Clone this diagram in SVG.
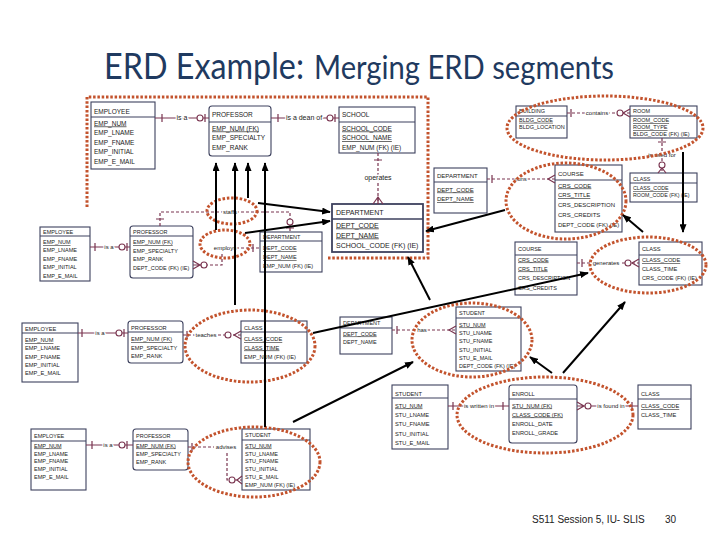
<svg xmlns="http://www.w3.org/2000/svg" width="720" height="540" viewBox="0 0 720 540">
<defs>
<style>
.b{fill:#fff;stroke:#3d415e;stroke-width:1.1}
.bm{fill:#fff;stroke:#3d415e;stroke-width:1.8}
.h{stroke:#3d415e;stroke-width:1.1}
text{font-family:"Liberation Sans",Arial,sans-serif;fill:#1b1b1b}
.s7{font-size:7px}
.s65{font-size:6.5px}
.s6{font-size:6px}
.s57{font-size:5.7px}
.s55{font-size:5.5px}
.s53{font-size:5.3px}
.pk{text-decoration:underline}
.r{fill:none;stroke:#7a3550;stroke-width:1.2}
.d{stroke-dasharray:3 2}
.o{fill:#fff;stroke:#7a3550;stroke-width:1.1}
.rl{font-size:6px;fill:#222;text-anchor:middle;stroke:#fff;stroke-width:2.5;paint-order:stroke}
.rl7{font-size:7px}
.e{fill:none;stroke:#c3532d;stroke-width:3;stroke-dasharray:2.5 1.8}
.a{stroke:#000;stroke-width:2;fill:none;marker-end:url(#ah)}
.title{fill:#1f3a60}
.foot{font-size:10px;fill:#222}
</style>
<marker id="ah" viewBox="0 0 10 8" refX="9" refY="4" markerWidth="9" markerHeight="7" markerUnits="userSpaceOnUse" orient="auto"><path d="M0,0 L10,4 L0,8 z" fill="#000"/></marker>
</defs>
<rect width="720" height="540" fill="#fff"/>

<g id="title">
<text class="title" x="104" y="79" style="font-family:Lato,'Open Sans',sans-serif;font-size:36px" textLength="200" lengthAdjust="spacingAndGlyphs">ERD Example:</text>
<text class="title" x="314" y="79" style="font-family:Lato,'Open Sans',sans-serif;font-size:32px" textLength="300" lengthAdjust="spacingAndGlyphs">Merging ERD segments</text>
</g>

<!-- Top segment -->
<g id="employee-a"><rect class="b" x="91" y="102" width="64" height="67"/><line class="h" x1="91" y1="117" x2="155" y2="117"/>
<text class="s65" x="94" y="113.5">EMPLOYEE</text>
<text class="s65 pk" x="94" y="125.5">EMP_NUM</text>
<text class="s65" x="94" y="135">EMP_LNAME</text>
<text class="s65" x="94" y="144.5">EMP_FNAME</text>
<text class="s65" x="94" y="154">EMP_INITIAL</text>
<text class="s65" x="94" y="163.5">EMP_E_MAIL</text></g>

<g id="professor-a"><rect class="b" x="209" y="106" width="62" height="50" rx="3"/><line class="h" x1="209" y1="122" x2="271" y2="122"/>
<text class="s65" x="212" y="116.5">PROFESSOR</text>
<text class="s65 pk" x="212" y="130.5">EMP_NUM (FK)</text>
<text class="s65" x="212" y="140">EMP_SPECIALTY</text>
<text class="s65" x="212" y="149.5">EMP_RANK</text></g>

<g id="school"><rect class="b" x="339" y="107" width="76" height="46"/><line class="h" x1="339" y1="122" x2="415" y2="122"/>
<text class="s65" x="342" y="117">SCHOOL</text>
<text class="s65 pk" x="342" y="130.5">SCHOOL_CODE</text>
<text class="s65 pk" x="342" y="140">SCHOOL_NAME</text>
<text class="s65" x="342" y="149.5">EMP_NUM (FK) (IE)</text></g>

<g id="department-merged"><rect class="bm" x="332" y="204" width="91" height="48"/><line class="h" x1="332" y1="219" x2="423" y2="219" style="stroke-width:1.5"/>
<text class="s7" x="336" y="214.5">DEPARTMENT</text>
<text class="s7 pk" x="336" y="227.5">DEPT_CODE</text>
<text class="s7 pk" x="336" y="237.5">DEPT_NAME</text>
<text class="s7" x="336" y="248">SCHOOL_CODE (FK) (IE)</text></g>

<!-- Top right -->
<g id="building"><rect class="b" x="516" y="106" width="51" height="32"/><line class="h" x1="516" y1="116" x2="567" y2="116"/>
<text class="s55" x="519" y="113">BUILDING</text>
<text class="s55 pk" x="519" y="121.8">BLDG_CODE</text>
<text class="s55" x="519" y="129">BLDG_LOCATION</text></g>

<g id="room"><rect class="b" x="630" y="106" width="67" height="32"/><line class="h" x1="630" y1="116" x2="697" y2="116"/>
<text class="s55" x="633" y="113">ROOM</text>
<text class="s55 pk" x="633" y="122">ROOM_CODE</text>
<text class="s55 pk" x="633" y="129">ROOM_TYPE</text>
<text class="s55" x="633" y="136">BLDG_CODE (FK) (IE)</text></g>

<g id="class-room"><rect class="b" x="630" y="173" width="67" height="29"/><line class="h" x1="630" y1="183" x2="697" y2="183"/>
<text class="s53" x="633" y="181">CLASS</text>
<text class="s53 pk" x="633" y="190">CLASS_CODE</text>
<text class="s53" x="633" y="197">ROOM_CODE (FK) (IE)</text></g>

<g id="department-runs"><rect class="b" x="434" y="168" width="53" height="45"/><line class="h" x1="434" y1="182" x2="487" y2="182"/>
<text class="s6" x="437" y="178">DEPARTMENT</text>
<text class="s6 pk" x="437" y="191.5">DEPT_CODE</text>
<text class="s6 pk" x="437" y="201">DEPT_NAME</text></g>

<g id="course-runs"><rect class="b" x="555" y="165" width="67" height="67"/><line class="h" x1="555" y1="180" x2="622" y2="180"/>
<text class="s6" x="558" y="176">COURSE</text>
<text class="s6 pk" x="558" y="187.5">CRS_CODE</text>
<text class="s6 pk" x="558" y="197">CRS_TITLE</text>
<text class="s6" x="558" y="206.5">CRS_DESCRIPTION</text>
<text class="s6" x="558" y="216.5">CRS_CREDITS</text>
<text class="s6" x="558" y="226.5">DEPT_CODE (FK) (IE)</text></g>

<g id="course-gen"><rect class="b" x="515" y="242" width="62" height="53"/><line class="h" x1="515" y1="255" x2="577" y2="255"/>
<text class="s55" x="518" y="250.5">COURSE</text>
<text class="s55 pk" x="518" y="261.5">CRS_CODE</text>
<text class="s55 pk" x="518" y="270.5">CRS_TITLE</text>
<text class="s55" x="518" y="280">CRS_DESCRIPTION</text>
<text class="s55" x="518" y="289.5">CRS_CREDITS</text></g>

<g id="class-gen"><rect class="b" x="639" y="242" width="63" height="43"/><line class="h" x1="639" y1="255" x2="702" y2="255"/>
<text class="s57" x="642" y="250.5">CLASS</text>
<text class="s57 pk" x="642" y="262">CLASS_CODE</text>
<text class="s57" x="642" y="271">CLASS_TIME</text>
<text class="s57" x="642" y="280">CRS_CODE (FK) (IE)</text></g>

<!-- Left middle -->
<g id="employee-l"><rect class="b" x="40" y="227" width="50" height="54"/><line class="h" x1="40" y1="236" x2="90" y2="236"/>
<text class="s55" x="43" y="233.5">EMPLOYEE</text>
<text class="s55 pk" x="43" y="244">EMP_NUM</text>
<text class="s55" x="43" y="252">EMP_LNAME</text>
<text class="s55" x="43" y="260.5">EMP_FNAME</text>
<text class="s55" x="43" y="269">EMP_INITIAL</text>
<text class="s55" x="43" y="277.5">EMP_E_MAIL</text></g>

<g id="professor-l"><rect class="b" x="130" y="226" width="63" height="52" rx="3"/><line class="h" x1="130" y1="236" x2="193" y2="236"/>
<text class="s55" x="133" y="233.5">PROFESSOR</text>
<text class="s55 pk" x="133" y="244">EMP_NUM (FK)</text>
<text class="s55" x="133" y="252.5">EMP_SPECIALTY</text>
<text class="s55" x="133" y="261">EMP_RANK</text>
<text class="s55" x="133" y="269.5">DEPT_CODE (FK) (IE)</text></g>

<g id="department-l"><rect class="b" x="260" y="232" width="62" height="40"/><line class="h" x1="260" y1="241" x2="322" y2="241"/>
<text class="s55" x="263" y="239">DEPARTMENT</text>
<text class="s55 pk" x="263" y="250">DEPT_CODE</text>
<text class="s55 pk" x="263" y="259">DEPT_NAME</text>
<text class="s55" x="263" y="268">EMP_NUM (FK) (IE)</text></g>

<!-- Teaches -->
<g id="employee-t"><rect class="b" x="22" y="323" width="56" height="59"/><line class="h" x1="22" y1="333" x2="78" y2="333"/>
<text class="s57" x="25" y="330.5">EMPLOYEE</text>
<text class="s57 pk" x="25" y="342">EMP_NUM</text>
<text class="s57" x="25" y="350">EMP_LNAME</text>
<text class="s57" x="25" y="358.5">EMP_FNAME</text>
<text class="s57" x="25" y="366.5">EMP_INITIAL</text>
<text class="s57" x="25" y="375">EMP_E_MAIL</text></g>

<g id="professor-t"><rect class="b" x="128" y="321" width="55" height="42" rx="3"/><line class="h" x1="128" y1="332" x2="183" y2="332"/>
<text class="s57" x="131" y="329.5">PROFESSOR</text>
<text class="s57 pk" x="131" y="341">EMP_NUM (FK)</text>
<text class="s57" x="131" y="349.5">EMP_SPECIALTY</text>
<text class="s57" x="131" y="358">EMP_RANK</text></g>

<g id="class-t"><rect class="b" x="241" y="321" width="66" height="42"/><line class="h" x1="241" y1="332" x2="307" y2="332"/>
<text class="s57" x="244" y="329.5">CLASS</text>
<text class="s57 pk" x="244" y="341">CLASS_CODE</text>
<text class="s57 pk" x="244" y="349.5">CLASS_TIME</text>
<text class="s57" x="244" y="358.5">EMP_NUM (FK) (IE)</text></g>

<!-- Has -->
<g id="department-h"><rect class="b" x="340" y="317" width="52" height="37"/><line class="h" x1="340" y1="328" x2="392" y2="328"/>
<text class="s55" x="343" y="325">DEPARTMENT</text>
<text class="s55 pk" x="343" y="335.5">DEPT_CODE</text>
<text class="s55" x="343" y="343.5">DEPT_NAME</text></g>

<g id="student-h"><rect class="b" x="456" y="307" width="65" height="64"/><line class="h" x1="456" y1="318" x2="521" y2="318"/>
<text class="s55" x="459" y="315">STUDENT</text>
<text class="s55 pk" x="459" y="326.5">STU_NUM</text>
<text class="s55" x="459" y="334.5">STU_LNAME</text>
<text class="s55" x="459" y="343">STU_FNAME</text>
<text class="s55" x="459" y="351.5">STU_INITIAL</text>
<text class="s55" x="459" y="359.5">STU_E_MAIL</text>
<text class="s55" x="459" y="368">DEPT_CODE (FK) (IE)</text></g>

<!-- Enroll -->
<g id="student-e"><rect class="b" x="392" y="385" width="56" height="64"/><line class="h" x1="392" y1="398" x2="448" y2="398"/>
<text class="s57" x="395" y="395.5">STUDENT</text>
<text class="s57 pk" x="395" y="407.5">STU_NUM</text>
<text class="s57" x="395" y="416.5">STU_LNAME</text>
<text class="s57" x="395" y="426">STU_FNAME</text>
<text class="s57" x="395" y="435.5">STU_INITIAL</text>
<text class="s57" x="395" y="445">STU_E_MAIL</text></g>

<g id="enroll"><rect class="b" x="509" y="385" width="68" height="58" rx="3"/><line class="h" x1="509" y1="399" x2="577" y2="399"/>
<text class="s57" x="512" y="395.5">ENROLL</text>
<text class="s57 pk" x="512" y="407.5">STU_NUM (FK)</text>
<text class="s57 pk" x="512" y="416.5">CLASS_CODE (FK)</text>
<text class="s57" x="512" y="425.5">ENROLL_DATE</text>
<text class="s57" x="512" y="435">ENROLL_GRADE</text></g>

<g id="class-e"><rect class="b" x="638" y="385" width="53" height="44"/><line class="h" x1="638" y1="399" x2="691" y2="399"/>
<text class="s57" x="641" y="395.5">CLASS</text>
<text class="s57 pk" x="641" y="408">CLASS_CODE</text>
<text class="s57" x="641" y="416.5">CLASS_TIME</text></g>

<!-- Advises -->
<g id="employee-b"><rect class="b" x="31" y="429" width="55" height="61"/><line class="h" x1="31" y1="441" x2="86" y2="441"/>
<text class="s55" x="34" y="437.5">EMPLOYEE</text>
<text class="s55 pk" x="34" y="447.5">EMP_NUM</text>
<text class="s55" x="34" y="455.5">EMP_LNAME</text>
<text class="s55" x="34" y="463">EMP_FNAME</text>
<text class="s55" x="34" y="471">EMP_INITIAL</text>
<text class="s55" x="34" y="479">EMP_E_MAIL</text></g>

<g id="professor-b"><rect class="b" x="133" y="429" width="55" height="41" rx="3"/><line class="h" x1="133" y1="441" x2="188" y2="441"/>
<text class="s55" x="136" y="437.5">PROFESSOR</text>
<text class="s55 pk" x="136" y="447.5">EMP_NUM (FK)</text>
<text class="s55" x="136" y="455.5">EMP_SPECIALTY</text>
<text class="s55" x="136" y="463.5">EMP_RANK</text></g>

<g id="student-b"><rect class="b" x="242" y="429" width="68" height="61"/><line class="h" x1="242" y1="440" x2="310" y2="440"/>
<text class="s55" x="245" y="437">STUDENT</text>
<text class="s55 pk" x="245" y="447.5">STU_NUM</text>
<text class="s55" x="245" y="455.5">STU_LNAME</text>
<text class="s55" x="245" y="463">STU_FNAME</text>
<text class="s55" x="245" y="471">STU_INITIAL</text>
<text class="s55" x="245" y="479">STU_E_MAIL</text>
<text class="s55" x="245" y="487">EMP_NUM (FK) (IE)</text></g>

<!-- Connectors -->
<g id="connectors">
<path class="r" d="M155,118 H209 M162,114 V122 M205,114 V122"/><circle class="o" cx="200" cy="118" r="3"/><text class="rl rl7" x="182" y="120">is a</text>
<path class="r" d="M271,118 H339 M278,114 V122 M335,114 V122"/><circle class="o" cx="330" cy="118" r="3"/><text class="rl rl7" x="304" y="120">is a dean of</text>
<path class="r d" d="M378,153 V204"/><path class="r" d="M374,160 H382 M373,204 L378,197 L383,204 M378,197 V204"/><text class="rl rl7" x="378" y="180">operates</text>

<path class="r d" d="M567,113 H630"/><path class="r" d="M571,109 V117 M630,109 L623,113 L630,117"/><circle class="o" cx="620" cy="113" r="3"/><text class="rl" x="597" y="115">contains</text>
<path class="r d" d="M662,138 V173"/><path class="r" d="M658,142 H666 M658,173 L662,168 L666,173"/><circle class="o" cx="662" cy="165" r="3"/><text class="rl" x="662" y="157">is used for</text>
<path class="r d" d="M487,179 H555"/><path class="r" d="M492,175 V183 M555,175 L548,179 L555,183"/><text class="rl" x="521" y="181">runs</text>
<path class="r d" d="M577,263 H639"/><path class="r" d="M582,259 V267 M639,259 L632,263 L639,267"/><circle class="o" cx="628" cy="263" r="3"/><text class="rl" x="606" y="265">generates</text>

<path class="r" d="M90,247 H130 M95,243 V251 M127,243 V251"/><circle class="o" cx="122" cy="247" r="3"/><text class="rl" x="109" y="249">is a</text>
<path class="r d" d="M160,226 V212 H290 V232"/><path class="r" d="M156,219 H164 M286,228 H294"/><circle class="o" cx="290" cy="222" r="3"/><text class="rl" x="230" y="214">staffs</text>
<path class="r d" d="M200,265 H222 V252 M236,248 H260"/><path class="r" d="M193,261 L200,265 L193,269 M193,265 H200 M253,244 V252"/><circle class="o" cx="204" cy="265" r="3"/><text class="rl" x="225" y="250">employs</text>

<path class="r" d="M78,333 H128 M82,329 V337 M124,329 V337"/><circle class="o" cx="119" cy="333" r="3"/><text class="rl" x="100" y="335">is a</text>
<path class="r d" d="M183,335 H241"/><path class="r" d="M187,331 V339 M241,331 L234,335 L241,339"/><circle class="o" cx="228" cy="335" r="3"/><text class="rl" x="206" y="337">teaches</text>

<path class="r d" d="M392,330 H456"/><path class="r" d="M397,326 V334 M456,326 L449,330 L456,334"/><text class="rl" x="422" y="332">has</text>

<path class="r" d="M448,406 H509 M453,402 V410 M503,402 V410"/><text class="rl" x="479" y="408">is written in</text>
<path class="r" d="M577,406 H638 M577,402 L584,406 L577,410 M632,402 V410"/><circle class="o" cx="588" cy="406" r="3"/><text class="rl" x="611" y="408">is found in</text>

<path class="r" d="M86,445 H133 M92,441 V449 M127,441 V449"/><circle class="o" cx="122" cy="445" r="3"/><text class="rl" x="108" y="447">is a</text>
<path class="r d" d="M188,447 H214 M227,453 V480 H242"/><path class="r" d="M192,443 V451 M242,476 L237,480 L242,484"/><circle class="o" cx="232" cy="480" r="3"/><text class="rl" x="226" y="449">advises</text>
</g>

<!-- Highlight markings -->
<g id="highlights">
<path class="e" d="M87,207 V97 H428 V258 H328"/>
<ellipse class="e" cx="605" cy="128" rx="98" ry="32"/>
<ellipse class="e" cx="566" cy="201" rx="60" ry="38"/>
<ellipse class="e" cx="648" cy="265" rx="58" ry="28"/>
<ellipse class="e" cx="232" cy="211" rx="25" ry="13"/>
<ellipse class="e" cx="225" cy="244" rx="25" ry="14"/>
<ellipse class="e" cx="250" cy="346" rx="65" ry="36"/>
<ellipse class="e" cx="472" cy="340" rx="60" ry="37"/>
<ellipse class="e" cx="545" cy="415" rx="88" ry="38"/>
<ellipse class="e" cx="254" cy="462" rx="66" ry="35"/>
</g>

<g id="merge-arrows">
<line class="a" x1="216" y1="230" x2="216" y2="163"/>
<line class="a" x1="235" y1="305" x2="235" y2="163"/>
<line class="a" x1="248" y1="198" x2="248" y2="163"/>
<line class="a" x1="265" y1="427" x2="265" y2="163"/>
<line class="a" x1="258" y1="203" x2="330" y2="212"/>
<line class="a" x1="245" y1="233" x2="330" y2="221"/>
<line class="a" x1="505" y1="210" x2="426" y2="231"/>
<line class="a" x1="643" y1="232" x2="623" y2="215"/>
<line class="a" x1="683" y1="152" x2="683" y2="232"/>
<line class="a" x1="313" y1="333" x2="588" y2="273"/>
<line class="a" x1="430" y1="300" x2="408" y2="257"/>
<line class="a" x1="293" y1="422" x2="413" y2="362"/>
<line class="a" x1="552" y1="373" x2="530" y2="357"/>
<line class="a" x1="563" y1="373" x2="625" y2="302"/>
</g>

<g id="footer">
<text class="foot" x="532" y="523">S511 Session 5, IU- SLIS</text>
<text class="foot" x="665" y="523">30</text>
</g>
</svg>
